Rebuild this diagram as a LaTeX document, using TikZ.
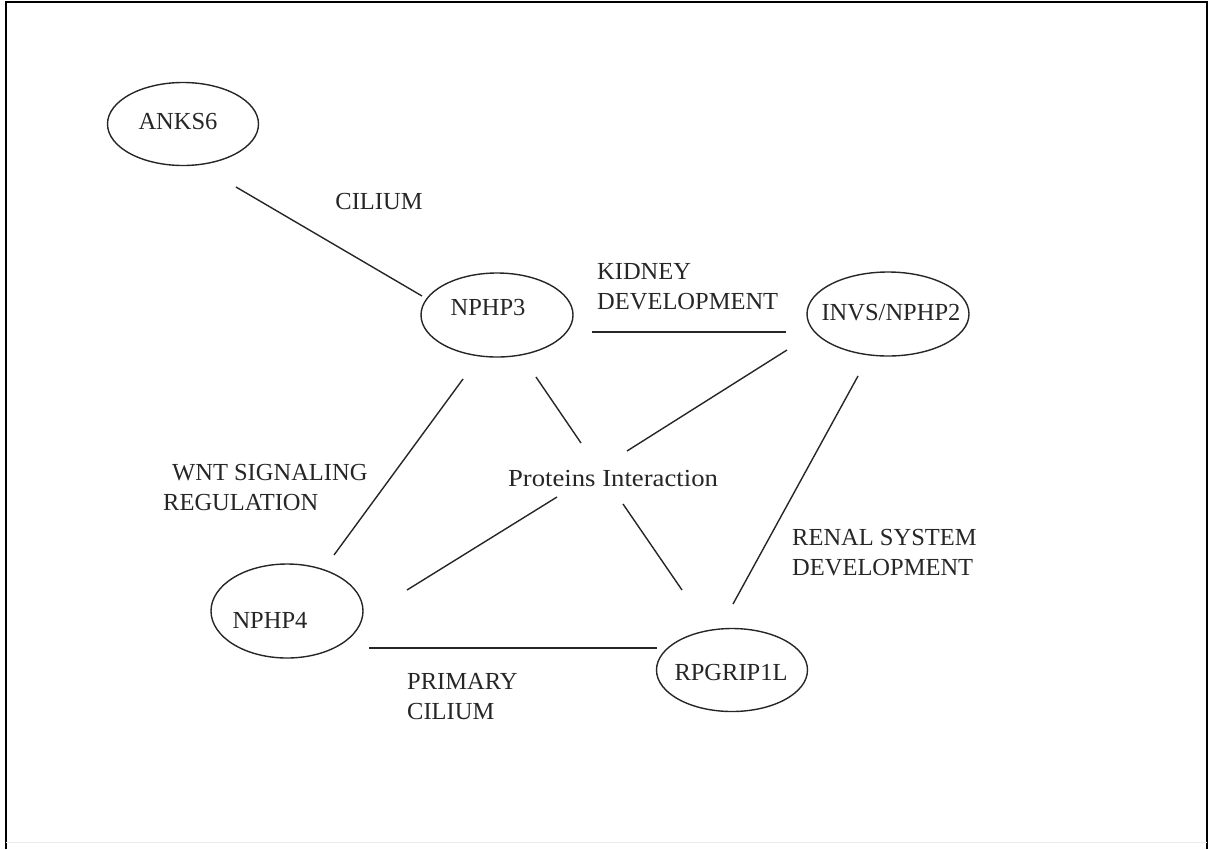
\documentclass[tikz,border=0pt]{standalone}
\usepackage{fontspec}
\setmainfont{Liberation Serif}
\usetikzlibrary{shapes.geometric}
\begin{document}
\begin{tikzpicture}[x=1pt,y=-1pt,
  protein/.style={draw=black!85, ellipse, line width=1.4pt, inner sep=0pt},
  lbl/.style={font=\fontsize{24.5}{30}\selectfont, inner sep=0pt, text=black!85},
  note/.style={lbl, anchor=west, align=left},
  link/.style={line width=1.4pt, draw=black!85}]
\useasboundingbox (0,0) rectangle (1209,849);
% page frame
\draw[line width=2pt] (6,849) -- (6,2) -- (1207,2) -- (1207,849);
\draw[black!8, line width=1pt] (6,842) -- (1207,842);

% proteins
\node[protein, minimum width=151pt, minimum height=83pt] (anks6) at (183,124) {};
\node[protein, minimum width=152pt, minimum height=84pt] (nphp3) at (497,315) {};
\node[protein, minimum width=162pt, minimum height=84pt] (invs) at (888,314) {};
\node[protein, minimum width=152pt, minimum height=94pt] (nphp4) at (287,611) {};
\node[protein, minimum width=151pt, minimum height=83pt] (rpgrip) at (732,670) {};

\node[lbl] (tanks6) at (178,122) {ANKS6};
\node[lbl] (tnphp3) at (488,308) {NPHP3};
\node[lbl] (tinvs) at (891,313) {INVS/NPHP2};
\node[lbl] (tnphp4) at (270,620) {NPHP4};
\node[lbl] (trpgrip) at (731,672) {RPGRIP1L};

% centre and edge labels
\node[lbl] (hub) at (613,478) {\scalebox{1.09}[1]{Proteins Interaction}};
\node[lbl] (cilium) at (379,202) {CILIUM};
\node[note] (kidney) at (597,287) {KIDNEY\\DEVELOPMENT};
\node[note] (wnt) at (163,487) {\hspace{9pt}WNT SIGNALING\\REGULATION};
\node[note] (renal) at (792,553) {RENAL SYSTEM\\DEVELOPMENT};
\node[note] (primary) at (407,697) {PRIMARY\\CILIUM};

% connector end points
\coordinate (a1) at (236,187); \coordinate (a2) at (422,296);
\coordinate (b1) at (592,332); \coordinate (b2) at (786,332);
\coordinate (c1) at (463,379); \coordinate (c2) at (334,555);
\coordinate (d1) at (536,377); \coordinate (d2) at (581,443);
\coordinate (e1) at (787,350); \coordinate (e2) at (627,451);
\coordinate (f1) at (557,497); \coordinate (f2) at (407,590);
\coordinate (g1) at (623,504); \coordinate (g2) at (682,590);
\coordinate (h1) at (858,376); \coordinate (h2) at (733,604);
\coordinate (i1) at (369,648); \coordinate (i2) at (657,648);

% connectors
\draw[link] (a1) -- (a2);
\draw[link] (b1) -- (b2);
\draw[link] (c1) -- (c2);
\draw[link] (d1) -- (d2);
\draw[link] (e1) -- (e2);
\draw[link] (f1) -- (f2);
\draw[link] (g1) -- (g2);
\draw[link] (h1) -- (h2);
\draw[link] (i1) -- (i2);
\end{tikzpicture}
\end{document}
